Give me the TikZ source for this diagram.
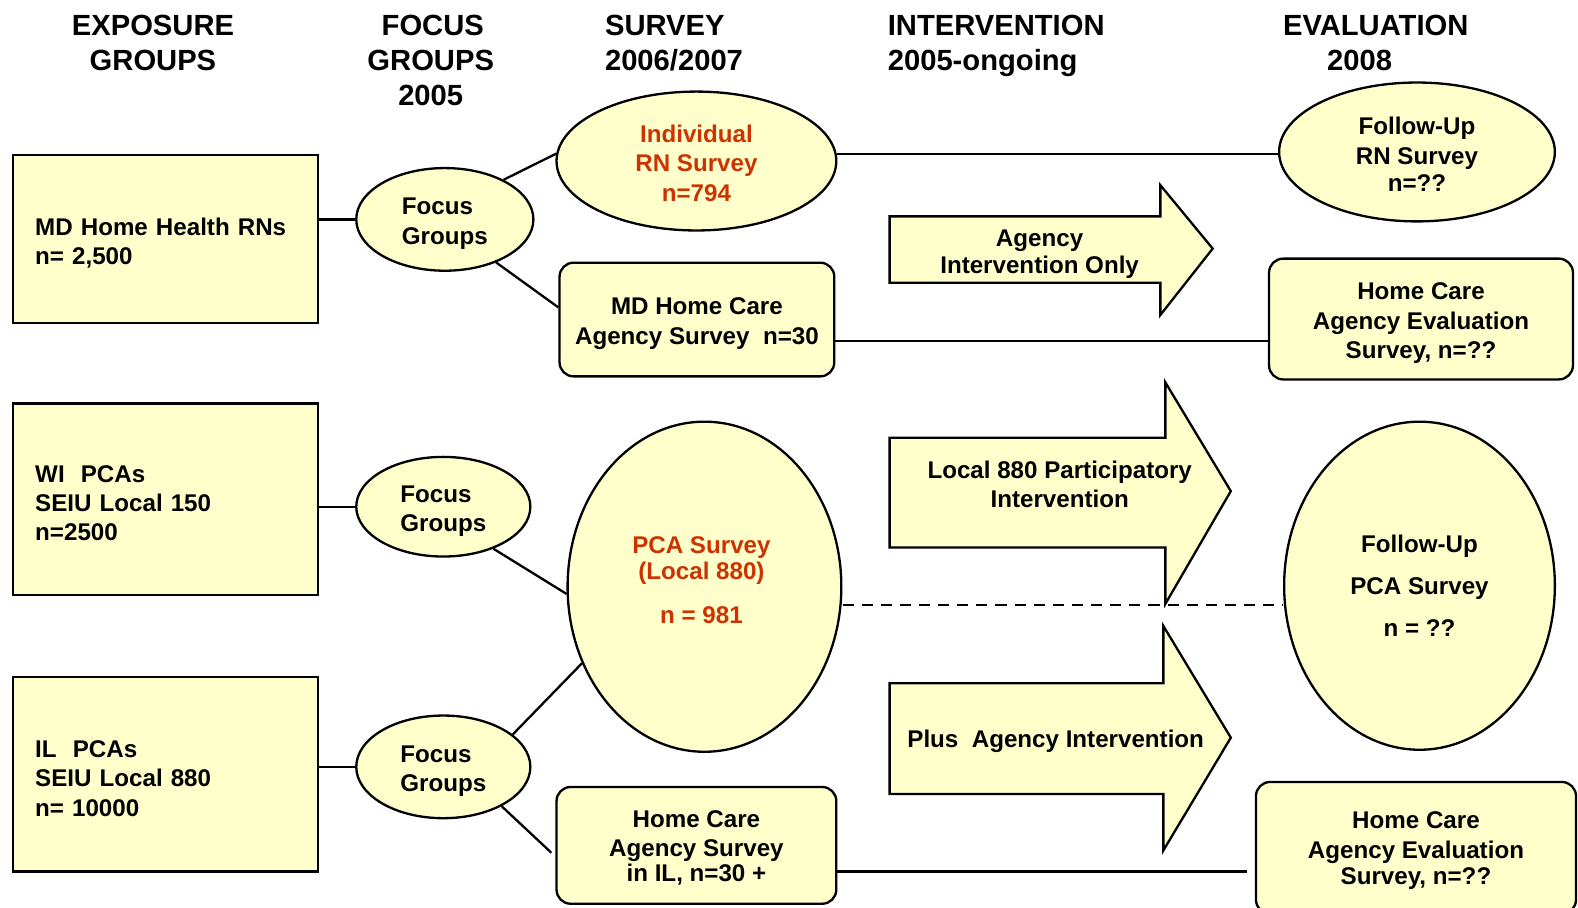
\documentclass[tikz,border=0pt]{standalone}
\usepackage{fontspec}
\setmainfont{Liberation Sans}
\usetikzlibrary{shapes.geometric}
\definecolor{boxfill}{HTML}{FFFFCC}
\definecolor{redtxt}{RGB}{204,51,0}
\newcommand{\bodyfnt}{\fontsize{24}{29}\selectfont\bfseries}
\newcommand{\hdrfnt}{\fontsize{29}{35}\selectfont\bfseries}
\newcommand{\topstrut}{\rule{0pt}{25pt}}
\newcommand{\midstrut}{\rule{0pt}{22pt}}
\tikzset{
  base/.style={draw=black, line width=2.3pt, fill=boxfill, font=\bodyfnt, inner sep=0pt},
  expbox/.style={base, rectangle, minimum width=303pt, text width=259pt, align=left,
    execute at begin node=\topstrut},
  ell/.style={base, ellipse, align=center},
  focusell/.style={base, ellipse, align=left},
  rbox/.style={base, rectangle, rounded corners=14pt, align=center},
  txt/.style={font=\bodyfnt, inner sep=0pt, align=center},
  conn/.style={line width=2.3pt},
  dashconn/.style={line width=2.3pt, dash pattern=on 11pt off 8pt},
  hdr/.style={font=\hdrfnt, inner sep=0pt},
  bigarrow/.style={draw=black, line width=2.3pt, fill=boxfill, line join=miter},
}
\begin{document}
\begin{tikzpicture}[x=1pt,y=-1pt]
\useasboundingbox (0,0) rectangle (1568,902);
\fill[white] (0,0) rectangle (1568,902);
\clip (0,0) rectangle (1568,902);

% headers
\node[hdr, anchor=base] (h1a) at (152,35) {EXPOSURE};
\node[hdr, anchor=base] (h1b) at (152,70) {GROUPS};
\node[hdr, anchor=base] (h2a) at (430,35) {FOCUS};
\node[hdr, anchor=base] (h2b) at (428,70) {GROUPS};
\node[hdr, anchor=base] (h2c) at (428,105) {2005};
\node[hdr, anchor=base west] (h3a) at (601,35) {SURVEY};
\node[hdr, anchor=base west] (h3b) at (601,70) {2006/2007};
\node[hdr, anchor=base west] (h4a) at (882,35) {INTERVENTION};
\node[hdr, anchor=base west] (h4b) at (882,70) {2005-ongoing};
\node[hdr, anchor=base] (h5a) at (1367,35) {EVALUATION};
\node[hdr, anchor=base] (h5b) at (1351,70) {2008};

% exposure groups
\node[expbox, minimum height=167pt] (B1) at (164.5,237.5) {MD Home Health RNs\\n= 2,500};
\node[expbox, minimum height=190pt] (B2) at (164.5,496) {WI\ \ PCAs\\SEIU Local 150\\n=2500};
\node[expbox, minimum height=193pt] (B3) at (164.5,769.5) {IL\ \ PCAs\\SEIU Local 880\\n= 10000};

% focus groups
\node[focusell, minimum width=176pt, minimum height=102pt] (F1) at (442,218) {\topstrut Focus\\Groups};
\node[focusell, minimum width=173pt, minimum height=99pt] (F2) at (440.5,503.5) {\topstrut Focus\\Groups};
\node[focusell, minimum width=173pt, minimum height=102pt] (F3) at (440.5,762) {\topstrut Focus\\Groups};

% surveys
\node[ell, text=redtxt, minimum width=278pt, minimum height=138pt] (S1) at (692,160) {\midstrut Individual\\RN Survey\\n=794};
\node[rbox, minimum width=273pt, minimum height=113pt] (S2) at (692.5,317.5) {\topstrut MD Home Care\\Agency Survey\ \ n=30};
\node[ell, minimum width=272pt, minimum height=328pt] (S3) at (700,583) {};
\node[txt, text=redtxt] (S3t) at (697,576.5) {PCA Survey\\[-3pt](Local 880)\\[14pt]n\ =\ 981};
\node[rbox, minimum width=278pt, minimum height=116pt] (S4) at (692,840) {\midstrut Home Care\\Agency Survey\\[-4pt]in IL, n=30 +};

% evaluation
\node[ell, minimum width=274pt, minimum height=138pt] (E1) at (1408,151) {\midstrut Follow-Up\\RN Survey\\[-2pt]n=??};
\node[rbox, minimum width=302pt, minimum height=120pt] (E2) at (1412,317) {\topstrut Home Care\\[1pt]Agency Evaluation\\Survey, n=??};
\node[ell, minimum width=269pt, minimum height=326pt] (E3) at (1410.5,582) {Follow-Up\\[13pt]PCA Survey\\[13pt]n = ??};
\node[rbox, minimum width=318pt, minimum height=131pt] (E4) at (1407,842.5) {\midstrut Home Care\\[1pt]Agency Evaluation\\[-4pt]Survey, n=??};

% intervention arrows
\draw[bigarrow] (884,215) -- (1153,215) -- (1153,184) -- (1205,247) -- (1153,313) -- (1153,281) -- (884,281) -- cycle;
\node[txt] (A1) at (1033,252.5) {Agency\\[-2pt]Intervention Only};
\draw[bigarrow] (884,435) -- (1158,435) -- (1158,380) -- (1223,488) -- (1158,600) -- (1158,544) -- (884,544) -- cycle;
\node[txt] (A2) at (1053,481) {Local 880 Participatory\\Intervention};
\draw[bigarrow] (884,679) -- (1156,679) -- (1156,622) -- (1223,733) -- (1156,845) -- (1156,789) -- (884,789) -- cycle;
\node[txt] (A3) at (1049,737) {Plus\ \ Agency Intervention};

% connectors exposure -> focus
\draw[conn] (B1.east |- F1.west) -- (F1.west);
\draw[conn] (B2.east |- F2.west) -- (F2.west);
\draw[conn] (B3.east |- F3.west) -- (F3.west);

% focus -> survey
\draw[conn] (F1.34) -- (S1.177);
\draw[conn] (F1.-40) -- (S2.175);
\draw[conn] (F2.-40) -- (S3.183);
\draw[conn] (F3.25) -- (S3.212);
\draw[conn] (F3.-34) -- ([xshift=-4pt]S4.183);

% survey -> evaluation
\draw[conn] (S1.3) -- (S1.3 -| E1.west);
\draw[conn] ([yshift=-21pt]S2.east) -- ([yshift=-21pt]S2.east -| E2.west);
\draw[dashconn] ([yshift=-18pt]S3.east) -- ([yshift=-18pt]S3.east -| E3.west);
\draw[conn] ([yshift=-26pt]S4.east) -- ([yshift=-26pt,xshift=-8pt]S4.east -| E4.west);
\end{tikzpicture}
\end{document}
